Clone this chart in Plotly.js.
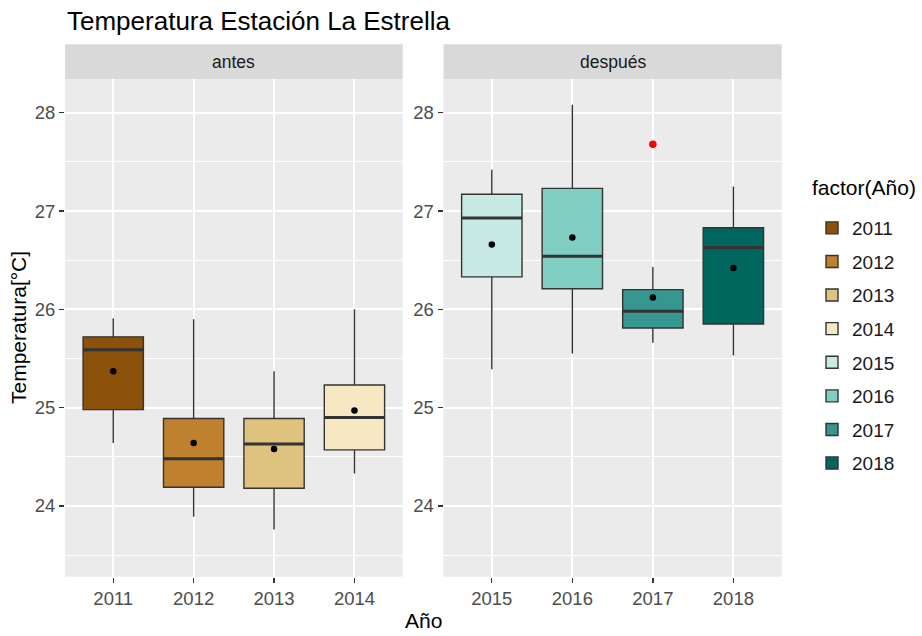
<!DOCTYPE html>
<html>
<head>
<meta charset="utf-8">
<script src="https://cdn.plot.ly/plotly-3.0.1.min.js"></script>
<style>html,body{margin:0;padding:0;background:#fff;}#chart{width:922px;height:636px;}</style>
</head>
<body>
<div id="chart"></div>
<script>
// ---- data ----
const years = ['2011','2012','2013','2014','2015','2016','2017','2018'];
const periods = ['antes','antes','antes','antes','después','después','después','después'];
const lowerWhisker = [24.64, 23.89, 23.76, 24.33, 25.39, 25.55, 25.66, 25.53];
const q1Values     = [24.98, 24.19, 24.18, 24.57, 26.33, 26.21, 25.81, 25.85];
const medianValues = [25.59, 24.48, 24.63, 24.90, 26.93, 26.54, 25.98, 26.63];
const q3Values     = [25.72, 24.89, 24.89, 25.23, 27.17, 27.23, 26.20, 26.83];
const upperWhisker = [25.91, 25.90, 25.37, 26.00, 27.42, 28.08, 26.43, 27.25];
const meanValues   = [25.37, 24.64, 24.58, 24.97, 26.66, 26.73, 26.12, 26.42];
const outlierYears  = ['2017'];
const outlierValues = [27.68];
const fillColors = ['#8C510A','#BF812D','#DFC27D','#F6E8C3','#C7EAE5','#80CDC1','#35978F','#01665E'];
const facetNames = ['antes','después'];

// ---- layout geometry ----
const W = 922, H = 636;
const px = v => v / W, py = v => 1 - v / H;
const xDom1 = [px(65), px(402.7)];
const xDom2 = [px(443.5), px(781.7)];
const yDom = [py(576.7), py(79.3)];
const stripTop = py(44.3);

const axisFor = p => p === 'antes' ? ['x','y'] : ['x2','y2'];

const traces = [];
years.forEach((yr, i) => {
  const [xa, ya] = axisFor(periods[i]);
  traces.push({
    type: 'box', name: yr, x: [yr],
    q1: [q1Values[i]], median: [medianValues[i]], q3: [q3Values[i]],
    lowerfence: [lowerWhisker[i]], upperfence: [upperWhisker[i]],
    fillcolor: fillColors[i], line: {color: '#333333', width: 1.4},
    whiskerwidth: 0, width: 0.75, boxpoints: false,
    xaxis: xa, yaxis: ya, legendgroup: yr, hoverinfo: 'y'
  });
});
// thicker median lines (ggplot fatten)
years.forEach((yr, i) => {
  const [xa, ya] = axisFor(periods[i]);
  const m = medianValues[i];
  traces.push({
    type: 'box', x: [yr], q1: [m], median: [m], q3: [m], lowerfence: [m], upperfence: [m],
    fillcolor: 'rgba(0,0,0,0)', line: {color: '#333333', width: 3},
    whiskerwidth: 0, width: 0.75, boxpoints: false, showlegend: false,
    xaxis: xa, yaxis: ya, hoverinfo: 'skip'
  });
});
// means
facetNames.forEach(f => {
  const idx = years.map((_, i) => i).filter(i => periods[i] === f);
  const [xa, ya] = axisFor(f);
  traces.push({
    type: 'scatter', mode: 'markers', x: idx.map(i => years[i]), y: idx.map(i => meanValues[i]),
    marker: {color: '#000000', size: 6.5}, showlegend: false, xaxis: xa, yaxis: ya
  });
});
// outliers
traces.push({
  type: 'scatter', mode: 'markers', x: outlierYears, y: outlierValues,
  marker: {color: '#FF0000', size: 7.5}, showlegend: false, xaxis: 'x2', yaxis: 'y2'
});

const tickFont = {size: 18.5, color: '#4D4D4D'};
const xBase = {
  type: 'category', categoryorder: 'array', range: [-0.6, 3.6],
  showgrid: true, gridcolor: '#FFFFFF', gridwidth: 2,
  ticks: 'outside', ticklen: 5, tickwidth: 1.3, tickcolor: '#333333',
  tickfont: tickFont, zeroline: false, showline: false, fixedrange: true
};
const yBase = {
  range: [23.28, 28.34], domain: yDom, tick0: 0, dtick: 1,
  showgrid: true, gridcolor: '#FFFFFF', gridwidth: 2,
  minor: {tick0: 0, dtick: 0.5, showgrid: true, gridcolor: '#FFFFFF', gridwidth: 1, ticks: ''},
  ticks: 'outside', ticklen: 5, tickwidth: 1.3, tickcolor: '#333333',
  tickfont: tickFont, zeroline: false, showline: false, fixedrange: true
};

const layout = {
  width: W, height: H,
  margin: {l: 0, r: 0, t: 0, b: 0},
  paper_bgcolor: '#FFFFFF', plot_bgcolor: '#EBEBEB',
  font: {family: 'Liberation Sans, Arial, sans-serif', color: '#000000'},
  boxmode: 'overlay',
  xaxis: Object.assign({}, xBase, {domain: xDom1, anchor: 'y', categoryarray: years.slice(0, 4)}),
  xaxis2: Object.assign({}, xBase, {domain: xDom2, anchor: 'y2', categoryarray: years.slice(4)}),
  yaxis: Object.assign({}, yBase, {anchor: 'x'}),
  yaxis2: Object.assign({}, yBase, {anchor: 'x2'}),
  showlegend: true,
  legend: {
    x: px(812), xanchor: 'left', y: py(209), yanchor: 'top',
    font: {size: 19, color: '#1A1A1A'}, tracegroupgap: 5.9,
    bgcolor: 'rgba(0,0,0,0)', itemwidth: 30
  },
  shapes: [
    {type: 'rect', xref: 'paper', yref: 'paper', x0: xDom1[0], x1: xDom1[1], y0: yDom[1], y1: stripTop, fillcolor: '#D9D9D9', line: {width: 0}, layer: 'below'},
    {type: 'rect', xref: 'paper', yref: 'paper', x0: xDom2[0], x1: xDom2[1], y0: yDom[1], y1: stripTop, fillcolor: '#D9D9D9', line: {width: 0}, layer: 'below'}
  ],
  annotations: [
    {text: facetNames[0], xref: 'paper', yref: 'paper', x: (xDom1[0] + xDom1[1]) / 2, y: (yDom[1] + stripTop) / 2, xanchor: 'center', yanchor: 'middle', showarrow: false, font: {size: 17.5, color: '#1A1A1A'}},
    {text: facetNames[1], xref: 'paper', yref: 'paper', x: (xDom2[0] + xDom2[1]) / 2, y: (yDom[1] + stripTop) / 2, xanchor: 'center', yanchor: 'middle', showarrow: false, font: {size: 17.5, color: '#1A1A1A'}},
    {text: 'Temperatura Estación La Estrella', xref: 'paper', yref: 'paper', x: px(65), y: py(21), xanchor: 'left', yanchor: 'middle', showarrow: false, font: {size: 26, color: '#000000'}},
    {text: 'Año', xref: 'paper', yref: 'paper', x: (xDom1[0] + xDom2[1]) / 2, y: py(620), xanchor: 'center', yanchor: 'middle', showarrow: false, font: {size: 21, color: '#000000'}},
    {text: 'Temperatura[°C]', xref: 'paper', yref: 'paper', x: px(18), y: (yDom[0] + yDom[1]) / 2, xanchor: 'center', yanchor: 'middle', textangle: -90, showarrow: false, font: {size: 21, color: '#000000'}},
    {text: 'factor(Año)', xref: 'paper', yref: 'paper', x: px(810), y: py(188), xanchor: 'left', yanchor: 'middle', showarrow: false, font: {size: 21, color: '#000000'}}
  ]
};

Plotly.newPlot('chart', traces, layout, {displayModeBar: false, staticPlot: true});
</script>
</body>
</html>
